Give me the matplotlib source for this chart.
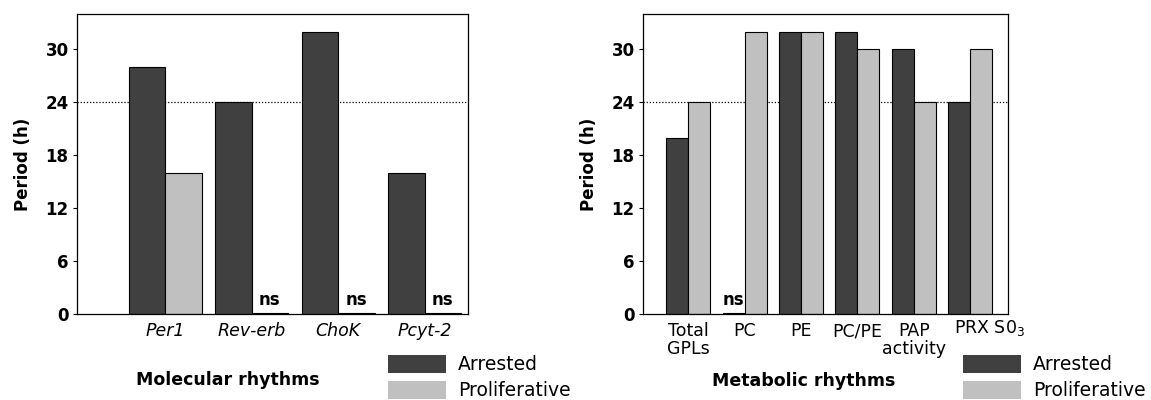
import numpy as np
import matplotlib
matplotlib.use("Agg")
import matplotlib.pyplot as plt
import matplotlib.transforms as mtransforms
from matplotlib.patches import Patch

# data
MOL_GENES = ["Per1", "Rev-erb", "ChoK", "Pcyt-2"]
MOL_ARRESTED = [28, 24, 32, 16]
MOL_PROLIF = [16, 0, 0, 0]
MOL_NS = [False, True, True, True]

MET_LABELS = ["Total\nGPLs", "PC", "PE", "PC/PE", "PAP\nactivity", "PRX S0$_3$"]
MET_ARRESTED = [20, 0, 32, 32, 30, 24]
MET_PROLIF = [24, 32, 32, 30, 24, 30]
MET_NS = [False, True, False, False, False, False]   # ns applies to arrested bar of PC

DARK = "#404040"
LIGHT = "#c0c0c0"
NS_H = 0.15


def draw_panel(ax, labels, arrested, prolif, ns_prolif, ns_arrested, width, xlim, italic):
    x = np.arange(len(labels))
    arr = [NS_H if n else v for v, n in zip(arrested, ns_arrested)]
    pro = [NS_H if n else v for v, n in zip(prolif, ns_prolif)]
    ax.bar(x - width / 2, arr, width, color=DARK, edgecolor="black", linewidth=0.8)
    ax.bar(x + width / 2, pro, width, color=LIGHT, edgecolor="black", linewidth=0.8)
    for i in range(len(labels)):
        if ns_prolif[i]:
            ax.text(x[i] + width / 2, 0.6, "ns", ha="center", va="bottom", fontsize=12, fontweight="bold")
        if ns_arrested[i]:
            ax.text(x[i] - width / 2, 0.6, "ns", ha="center", va="bottom", fontsize=12, fontweight="bold")
    ax.axhline(24, color="black", linestyle=(0, (1, 1.5)), linewidth=0.9, zorder=0)
    ax.set_xlim(*xlim)
    ax.set_ylim(0, 34)
    ax.set_yticks([0, 6, 12, 18, 24, 30])
    ax.set_xticks(x)
    ax.set_xticklabels(labels, fontsize=12.5, style="italic" if italic else "normal", linespacing=0.95)
    ax.tick_params(axis="x", length=0, pad=6)
    ax.tick_params(axis="y", length=3, width=0.8, labelsize=12, pad=3)
    for t in ax.get_yticklabels():
        t.set_fontweight("bold")
    ax.set_ylabel("Period (h)", fontsize=12, fontweight="bold", labelpad=10)
    for s in ax.spines.values():
        s.set_linewidth(0.9)


W, H = 1151, 400
fig = plt.figure(figsize=(W / 100, H / 100), dpi=100)

ax1 = fig.add_axes([77 / W, 1 - 314 / H, 391 / W, 300 / H])
draw_panel(ax1, MOL_GENES, MOL_ARRESTED, MOL_PROLIF, MOL_NS, [False] * 4,
           0.42, (-1.02, 3.5), True)

ax2 = fig.add_axes([643 / W, 1 - 314 / H, 365 / W, 300 / H])
draw_panel(ax2, MET_LABELS, MET_ARRESTED, MET_PROLIF, [False] * 6, MET_NS,
           0.39, (-0.80, 5.67), False)

# PRX S0_3 label sits a bit right of its group and slightly raised
last = ax2.get_xticklabels()[-1]
last.set_transform(last.get_transform() + mtransforms.ScaledTranslation(0.19, 0.04, fig.dpi_scale_trans))

fig.text(228 / W, 1 - 380 / H, "Molecular rhythms", ha="center", va="center", fontsize=12.5, fontweight="bold")
fig.text(804 / W, 1 - 381 / H, "Metabolic rhythms", ha="center", va="center", fontsize=12.5, fontweight="bold")

handles = [Patch(facecolor=DARK), Patch(facecolor=LIGHT)]
for lx in [388, 963]:
    fig.legend(handles, ["Arrested", "Proliferative"], loc="upper left",
               bbox_to_anchor=(lx / W, 1 - 355 / H), frameon=False, fontsize=13.5,
               handlelength=3.1, handleheight=1.1, handletextpad=0.65,
               labelspacing=0.35, borderpad=0, borderaxespad=0)

fig.savefig("out.png", dpi=100)
